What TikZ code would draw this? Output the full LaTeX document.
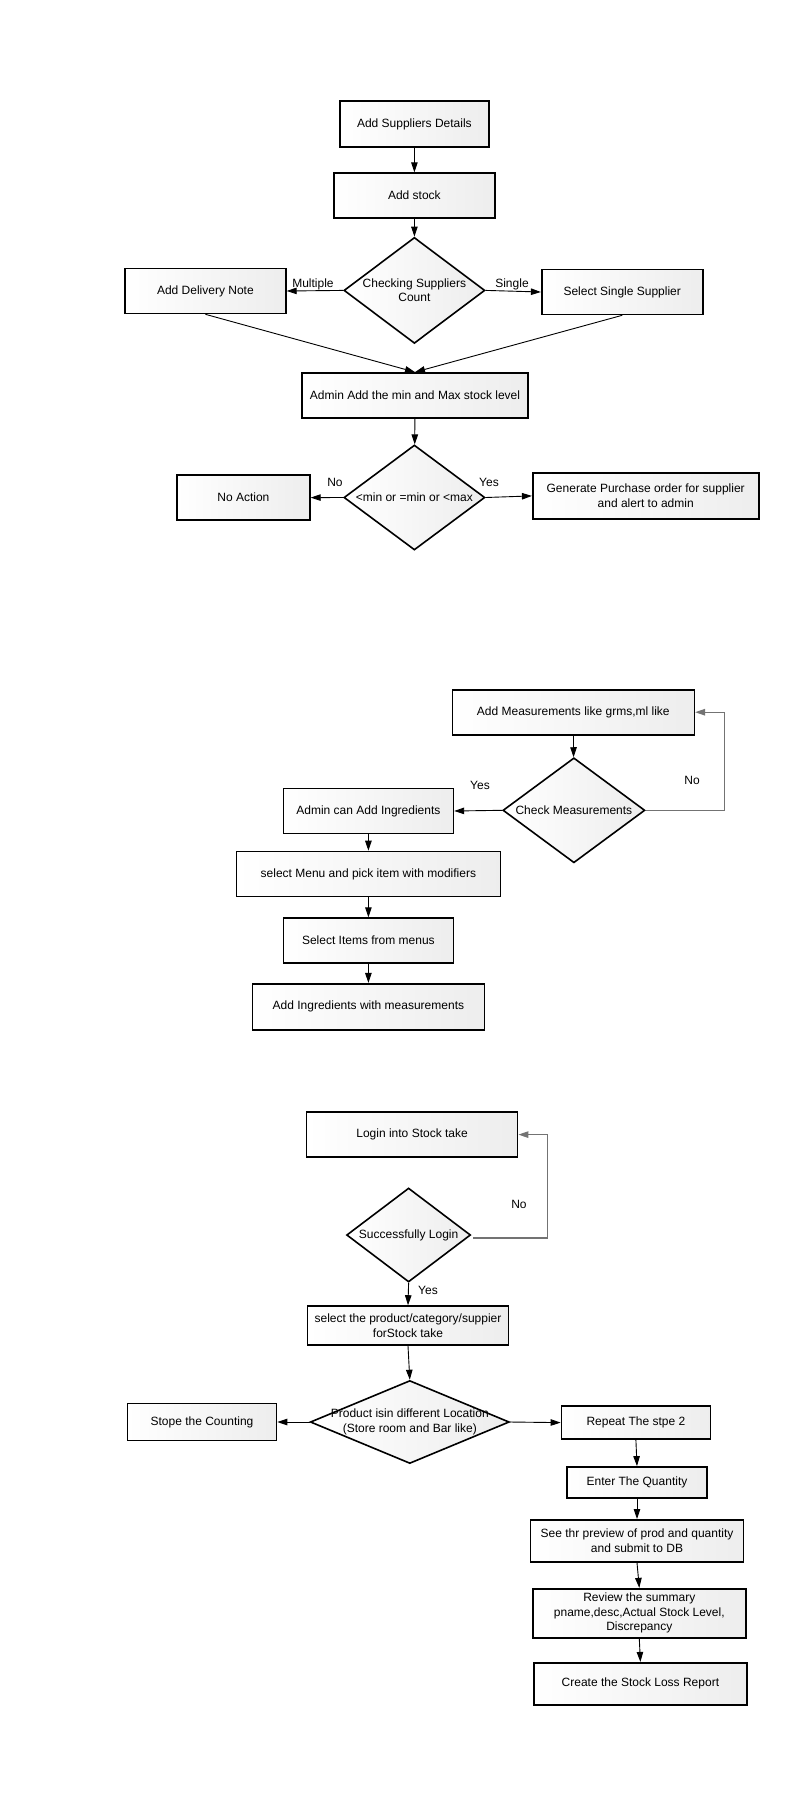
\documentclass[tikz,border=0pt]{standalone}
\usepackage{fontspec}
\setmainfont{Liberation Sans}
\usetikzlibrary{shapes.geometric,arrows.meta}
\begin{document}
\begin{tikzpicture}[x=1pt,y=-1pt,
  box/.style={draw=black, line width=1.6pt, left color=white, right color=black!7, inner sep=0pt, align=center, font=\fontsize{12}{14.5}\selectfont},
  dia/.style={diamond, draw=black, line width=1.6pt, left color=white, right color=black!7, inner sep=0pt},
  dtxt/.style={align=center, font=\fontsize{12}{14.5}\selectfont, inner sep=0pt},
  lbl/.style={font=\fontsize{12}{14}\selectfont, inner sep=0pt},
  arr/.style={line width=0.9pt, -{Triangle[length=10pt,width=6.5pt]}},
  back/.style={arr, draw=black!55, line width=1.2pt},
]
\useasboundingbox (0,0) rectangle (800,1800);

% ---------- section 1 ----------
\node[box, minimum width=149, minimum height=46] (sup) at (414.4,124) {Add Suppliers Details};
\node[box, minimum width=161, minimum height=45] (stock) at (414.4,195.6) {Add stock};
\node[dia, minimum width=141, minimum height=106] (d1) at (414.4,290.4) {};
\node[dtxt] (d1t) at (d1.center) {Checking Suppliers\\Count};
\node[box, minimum width=161, minimum height=45] (dn) at (205.4,291) {Add Delivery Note};
\node[box, minimum width=161, minimum height=45] (ss) at (622.2,292) {Select Single Supplier};
\node[box, minimum width=226, minimum height=45] (adm) at (415,395.4) {Admin Add the min and Max stock level};
\node[dia, minimum width=141, minimum height=105] (d2) at (414.4,497.5) {};
\node[dtxt] (d2t) at (d2.center) {\textless min or =min or \textless max};
\node[box, minimum width=133, minimum height=45] (na) at (243.4,497.6) {No Action};
\node[box, minimum width=226, minimum height=46] (gp) at (645.7,495.9) {Generate Purchase order for supplier\\and alert to admin};

\draw[arr] (sup) -- (stock);
\draw[arr] (stock) -- (d1);
\draw[arr] (d1.west) -- (dn.east);
\draw[arr] (d1.east) -- (ss.west);
\draw[arr] (dn.south) -- (adm.north);
\draw[arr] (ss.south) -- (adm.north);
\draw[arr] (adm) -- (d2);
\draw[arr] (d2.west) -- (na.east);
\draw[arr] (d2.east) -- (gp.west);
\node[lbl] (lmul) at (313,284) {Multiple};
\node[lbl] (lsin) at (512,284) {Single};
\node[lbl] (lno1) at (335,482) {No};
\node[lbl] (lyes1) at (489,482) {Yes};

% ---------- section 2 ----------
\node[box, minimum width=242, minimum height=45] (am) at (573.3,712.2) {Add Measurements like grms,ml like};
\node[dia, minimum width=142, minimum height=105] (d3) at (573.9,810.3) {};
\node[dtxt] (d3t) at (d3.center) {Check Measurements};
\node[box, minimum width=170, minimum height=45] (ai) at (368.4,811) {Admin can Add Ingredients};
\node[box, minimum width=264, minimum height=45] (sm) at (368.4,874) {select Menu and pick item with modifiers};
\node[box, minimum width=170, minimum height=45] (si) at (368.4,940.6) {Select Items from menus};
\node[box, minimum width=232, minimum height=46] (aim) at (368.4,1006.7) {Add Ingredients with measurements};
\coordinate (mx) at (724.3,0);

\draw[arr] (am) -- (d3);
\draw[arr] (d3.west) -- (ai.east);
\draw[arr] (ai) -- (sm);
\draw[arr] (sm) -- (si);
\draw[arr] (si) -- (aim);
\draw[back] (d3.east) -- (d3.east -| mx) |- (am.east);
\node[lbl] (lno2) at (692,780.5) {No};
\node[lbl] (lyes2) at (480,785) {Yes};

% ---------- section 3 ----------
\node[box, minimum width=211, minimum height=45] (li) at (412.1,1134.6) {Login into Stock take};
\node[dia, minimum width=124, minimum height=94] (d4) at (408.6,1235) {};
\node[dtxt] (d4t) at (d4.center) {Successfully Login};
\node[box, minimum width=201, minimum height=39] (sp) at (408,1325.5) {select the product/category/suppier\\forStock take};
\node[dia, minimum width=199, minimum height=83] (d5) at (409.8,1422) {};
\node[dtxt] (d5t) at (d5.center) {Product isin different Location\\(Store room and Bar like)};
\node[box, minimum width=149, minimum height=37] (sc) at (202,1422) {Stope the Counting};
\node[box, minimum width=149, minimum height=33] (rp) at (635.9,1422.6) {Repeat The stpe 2};
\node[box, minimum width=140, minimum height=31] (eq) at (637,1482.4) {Enter The Quantity};
\node[box, minimum width=213, minimum height=42] (pv) at (637,1540.8) {See thr preview of prod and quantity\\and submit to DB};
\node[box, minimum width=213, minimum height=49] (rv) at (639.3,1613.2) {Review the summary\\pname,desc,Actual Stock Level,\\Discrepancy};
\node[box, minimum width=213, minimum height=42] (cr) at (640.4,1683.7) {Create the Stock Loss Report};
\coordinate (lx) at (547.5,0);

\draw[back] ([xshift=2pt,yshift=-3pt]d4.east) -- ([yshift=-3pt]d4.east -| lx) |- (li.east);
\draw[arr] (d4.south) -- (sp.north);
\draw[arr] (sp.south) -- (d5.north);
\draw[arr] (d5.west) -- (sc.east);
\draw[arr] (d5.east) -- (rp.west);
\draw[arr] (rp.south) -- (eq.north);
\draw[arr] (eq.south) -- (pv.north);
\draw[arr] (pv.south) -- (rv.north);
\draw[arr] (rv.south) -- (cr.north);
\node[lbl] (lno3) at (519,1204) {No};
\node[lbl] (lyes3) at (428,1290) {Yes};
\end{tikzpicture}
\end{document}
